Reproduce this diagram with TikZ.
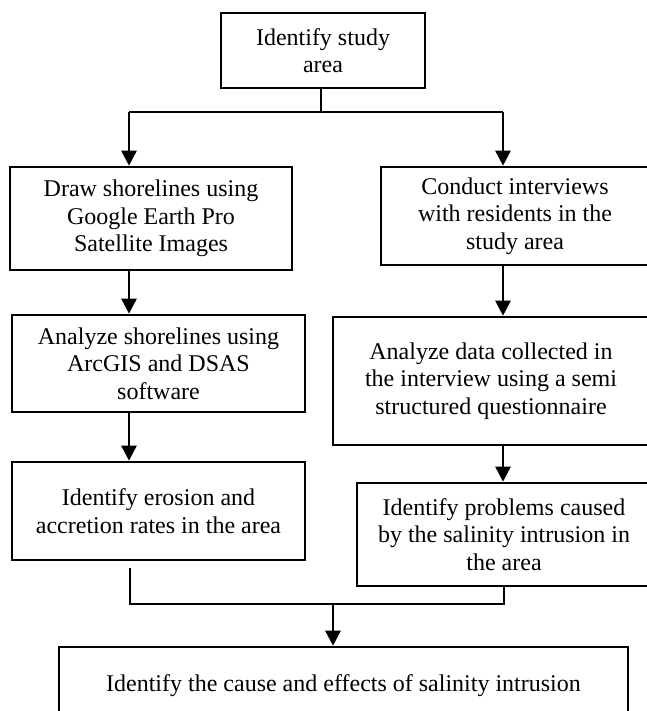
\documentclass[tikz,border=0pt]{standalone}
\usepackage{fontspec}
\setmainfont{Liberation Serif}
\usetikzlibrary{arrows.meta}

\tikzset{
    box/.style={draw, rectangle, line width=2.6pt, inner sep=0pt, align=center,
        font=\fontsize{24}{27.5}\selectfont},
    flow/.style={line width=2.6pt, -{Triangle[width=15pt,length=15pt]}},
    link/.style={line width=2.6pt}
}

\begin{document}
\begin{tikzpicture}[x=1pt, y=-1pt]
            \useasboundingbox (0,0) rectangle (646,711);

            % Nodes
            \node[box, minimum width=204pt, minimum height=75pt] (study) at (323,50.5) {Identify study\\area};
            \node[box, minimum width=282pt, minimum height=103pt] (draw) at (151,218.5) {Draw shorelines using\\Google Earth Pro\\Satellite Images};
            \node[box, minimum width=293pt, minimum height=97pt] (gis) at (158.5,363.5) {Analyze shorelines using\\ArcGIS and DSAS\\software};
            \node[box, minimum width=293pt, minimum height=98pt] (erosion) at (158.5,511) {Identify erosion and\\accretion rates in the area};
            \node[box, minimum width=268pt, minimum height=98pt] (interview) at (515,216) {Conduct interviews\\with residents in the\\study area};
            \node[box, minimum width=316pt, minimum height=128pt] (data) at (491,381) {Analyze data collected in\\the interview using a semi\\structured questionnaire};
            \node[box, minimum width=294pt, minimum height=103pt] (problems) at (504,534.5) {Identify problems caused\\by the salinity intrusion in\\the area};
            \node[box, minimum width=569pt, minimum height=78pt] (cause) at (343.5,686) {Identify the cause and effects of salinity intrusion};

            % Junctions
            \coordinate (split) at (321,112);
            \coordinate (sl) at (129,112);
            \coordinate (sr) at (503,112);
            \coordinate (ml) at (130,604);
            \coordinate (mr) at (504,604);
            \coordinate (mc) at (333,604);

            % Lines
            \draw[link] (study.south -| split) -- (split);
            \draw[link] (sl) -- (sr);
            \draw[flow] (sl) -- (sl |- draw.north);
            \draw[flow] (sr) -- (sr |- interview.north);
            \draw[flow] (draw.south -| sl) -- (gis.north -| sl);
            \draw[flow] (gis.south -| sl) -- (erosion.north -| sl);
            \draw[flow] (interview.south -| sr) -- (data.north -| sr);
            \draw[flow] (data.south -| sr) -- (problems.north -| sr);
            \draw[link] ([yshift=-7pt]erosion.south -| ml) -- (ml) -- (mr) -- (problems.south -| mr);
            \draw[flow] (mc) -- (mc |- cause.north);
        \end{tikzpicture}
\end{document}
